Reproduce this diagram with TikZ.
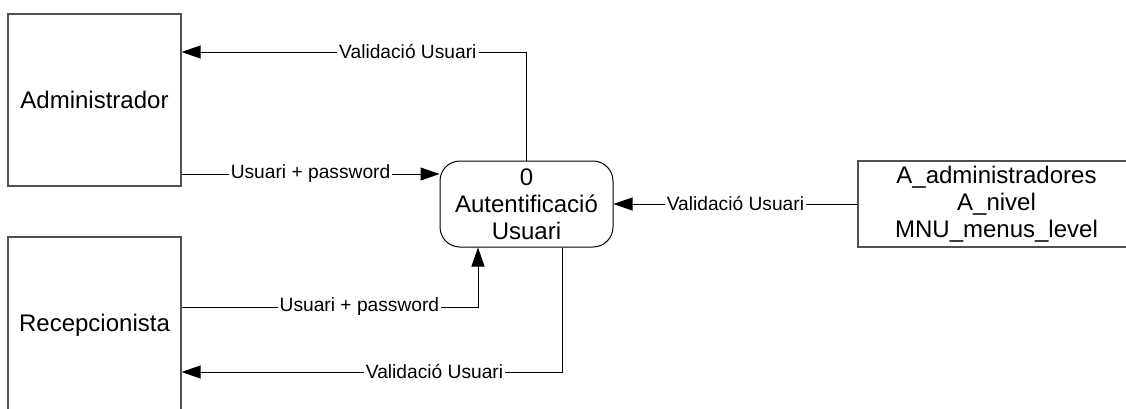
\documentclass[tikz,border=0pt]{standalone}
\usepackage{fontspec}
\setmainfont{Liberation Sans}
\usepackage{xcolor}
\usepackage{tikz}
\usetikzlibrary{arrows.meta,positioning,calc}
\definecolor{vora}{HTML}{505050}
\definecolor{linia}{HTML}{000000}
\tikzset{
  entitat/.style={rectangle, draw=vora, line width=0.6pt, minimum width=86.5pt,
    inner sep=0pt, font=\fontsize{12}{14}\selectfont},
  proces/.style={rectangle, rounded corners=10pt, draw=linia, line width=0.5pt,
    minimum width=86.5pt, minimum height=43pt, align=center, inner sep=0pt,
    font=\fontsize{12}{13.5}\selectfont},
  magatzem/.style={rectangle, draw=vora, line width=0.6pt, minimum width=138.5pt,
    minimum height=43pt, align=center, inner sep=0pt, font=\fontsize{12}{13.5}\selectfont},
  fletxa/.style={-{Triangle[length=9.5pt,width=6.5pt]}, draw=linia, line width=0.5pt},
  etiqueta/.style={fill=white, inner sep=1pt, font=\fontsize{9.6}{11}\selectfont},
}

\begin{document}
\begin{tikzpicture}[x=0.5pt, y=-0.5pt]
    \useasboundingbox (0,0) rectangle (1126,408);
    \clip (0,0) rectangle (1126,408);
    \node[entitat, minimum height=86pt] (adm) at (94.5,100) {Administrador};
    \node[entitat, minimum height=88pt] (rec) at (94.5,325) {Recepcionista};
    \node[proces] (aut) at (526.5,204) {0\\Autentificació\\Usuari};
    \node[magatzem] (taules) at (996.5,204) {A\_administradores\\A\_nivel\\MNU\_menus\_level};
    \draw[fletxa] (aut.north) |- node[etiqueta, pos=0.672] {Validació Usuari} ([yshift=24pt]adm.east);
    \draw[fletxa] ([yshift=-37pt]adm.east) -- node[etiqueta] {Usuari + password} ([yshift=-37pt]adm.east -| aut.west);
    \draw[fletxa] (taules.west) -- node[etiqueta] {Validació Usuari} (aut.east);
    \draw[fletxa] ([yshift=9pt]rec.east) -| node[etiqueta, pos=0.3] {Usuari + password} ([xshift=-24.25pt]aut.south);
    \draw[fletxa] ([xshift=18pt]aut.south) |- node[etiqueta, pos=0.668] {Validació Usuari} ([yshift=-23.5pt]rec.east);
  \end{tikzpicture}
\end{document}
